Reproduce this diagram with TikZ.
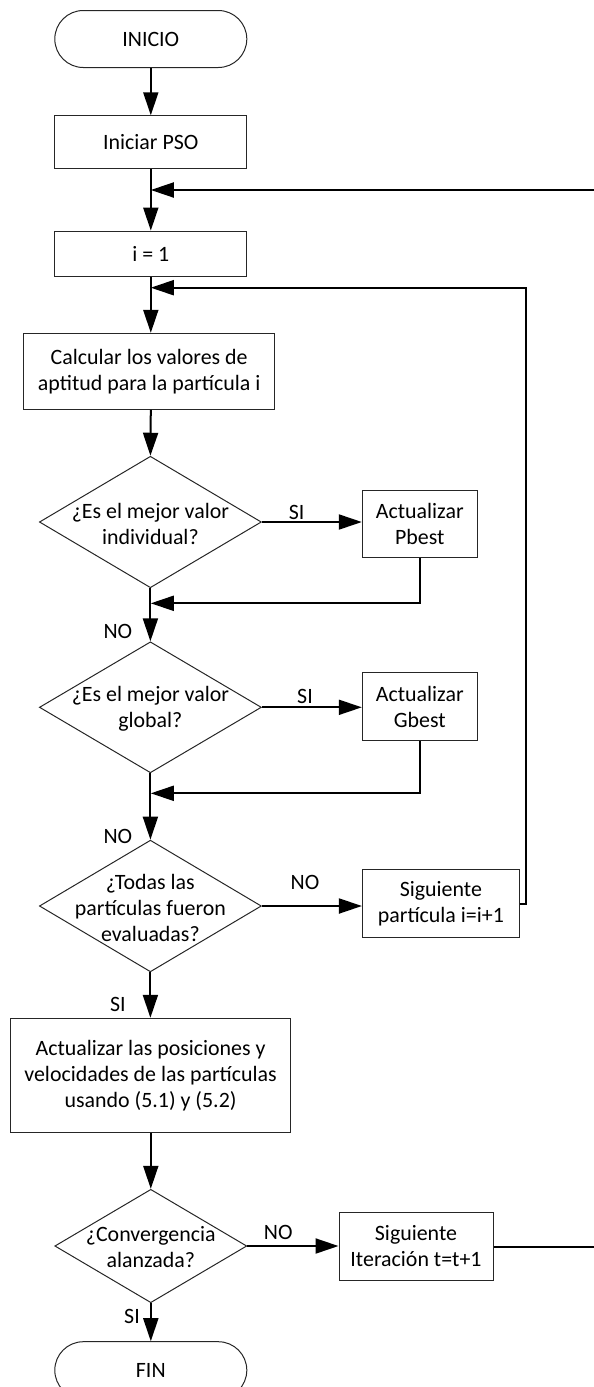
\documentclass[tikz,border=0pt]{standalone}
\usepackage{fontspec}
\setmainfont{Carlito}
\usetikzlibrary{shapes.geometric,arrows.meta}
\begin{document}
\begin{tikzpicture}[x=1pt,y=-1pt,
  txt/.style={font=\fontsize{21.9}{26}\selectfont, align=center},
  box/.style={draw=black!85, line width=1pt, rectangle, inner sep=0pt, txt},
  term/.style={box, rounded corners=28.5pt},
  decision/.style={draw=black!85, line width=1pt, diamond, inner sep=0pt},
  dtext/.style={txt, inner sep=0pt},
  flow/.style={line width=2pt, -{Triangle[length=23pt,width=15pt]}},
  plain/.style={line width=2pt},
  lbl/.style={txt, inner sep=0pt}]
\clip (0,0) rectangle (594,1387);

% main column
\node[term, minimum width=192pt, minimum height=57pt] (inicio) at (150.8,39) {INICIO};
\node[box, minimum width=192pt, minimum height=52.5pt] (pso) at (150.8,142) {Iniciar PSO};
\node[box, minimum width=192pt, minimum height=45.5pt] (ione) at (150.8,253.8) {i = 1};
\node[box, minimum width=251.5pt, minimum height=76pt] (calc) at (149.2,371.3) {Calcular los valores de\\aptitud para la partícula i};

\node[decision, minimum width=222pt, minimum height=131.5pt] (d1) at (150.4,522) {};
\node[dtext] (d1t) at (150.4,523.5) {¿Es el mejor valor\\individual?};
\node[box, minimum width=115pt, minimum height=67pt] (pbest) at (419.8,523.7) {Actualizar\\Pbest};

\node[decision, minimum width=222pt, minimum height=131pt] (d2) at (150.4,707.3) {};
\node[dtext] (d2t) at (150.4,709) {¿Es el mejor valor\\global?};
\node[box, minimum width=115pt, minimum height=68pt] (gbest) at (419.8,706.7) {Actualizar\\Gbest};

\node[decision, minimum width=222pt, minimum height=131.7pt] (d3) at (150.4,906) {};
\node[dtext] (d3t) at (150.4,907.5) {¿Todas las\\partículas fueron\\evaluadas?};
\node[box, minimum width=157pt, minimum height=67.7pt] (sig) at (440.9,903.8) {Siguiente\\partícula i=i+1};

\node[box, minimum width=280.6pt, minimum height=114pt] (upd) at (150.6,1075.3) {Actualizar las posiciones y\\velocidades de las partículas\\usando (5.1) y (5.2)};

\node[decision, minimum width=192pt, minimum height=113.4pt] (d4) at (150.8,1246) {};
\node[dtext] (d4t) at (150.8,1247.5) {¿Convergencia\\alanzada?};
\node[box, minimum width=154pt, minimum height=67.6pt] (iter) at (416,1246.5) {Siguiente\\Iteración t=t+1};

\node[term, minimum width=192pt, minimum height=57pt] (fin) at (150.8,1370.2) {FIN};

% loop joints and free ends
\coordinate (topin) at (594,190);
\coordinate (iterout) at (594,1246.5);
\coordinate (rj) at (526,287.7);
\coordinate (j1) at (150.8,603.3);
\coordinate (j2) at (150.8,793.3);

% connectors down the column
\draw[flow] (inicio.south) -- (pso.north);
\draw[flow] (pso.south) -- (ione.north);
\draw[flow] (ione.south) -- (calc.north -| ione.south);
\draw[flow] (calc.south -| ione.south) -- (d1.north);
\draw[flow] (d1.south) -- (d2.north);
\draw[flow] (d2.south) -- (d3.north);
\draw[flow] (d3.south) -- (upd.north -| d3.south);
\draw[flow] (upd.south -| d4.north) -- (d4.north);
\draw[flow] (d4.south) -- (fin.north);

% branches to the right
\draw[flow] (d1.east) -- (d1.east -| pbest.west);
\draw[flow] (d2.east) -- (d2.east -| gbest.west);
\draw[flow] (d3.east) -- (d3.east -| sig.west);
\draw[flow] (d4.east) -- (d4.east -| iter.west);

% returns into the column
\draw[flow] (pbest.south) |- (j1);
\draw[flow] (gbest.south) |- (j2);
\draw[flow] (sig.east) -| (rj) -- (rj -| ione.south);
\draw[flow] (topin) -- (topin -| pso.south);
\draw[plain] (iter.east) -- (iterout);

% branch labels
\node[lbl] (l1) at (296.6,512.5) {SI};
\node[lbl] (l2) at (117.9,631.7) {NO};
\node[lbl] (l3) at (305,696.7) {SI};
\node[lbl] (l4) at (117.9,836) {NO};
\node[lbl] (l5) at (305,882.3) {NO};
\node[lbl] (l6) at (117.9,1004) {SI};
\node[lbl] (l7) at (278.2,1232.7) {NO};
\node[lbl] (l8) at (132,1316.7) {SI};
\end{tikzpicture}
\end{document}
